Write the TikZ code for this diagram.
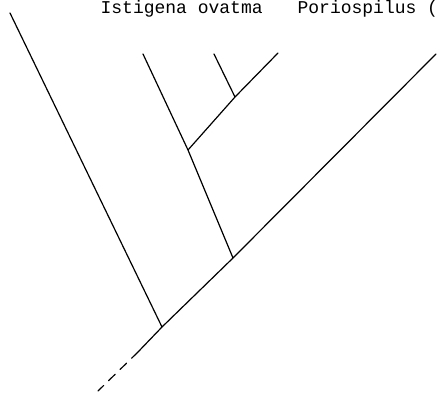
\documentclass[tikz,border=0pt]{standalone}
\usepackage{fontspec}
\setmonofont{Liberation Mono}
\begin{document}
\begin{tikzpicture}[x=1pt, y=-1pt, line cap=round, line join=round, line width=1.2pt, font=\fontsize{18}{20}\selectfont\ttfamily]
			\useasboundingbox (0,0) rectangle (439,393);
			\path (10,13) coordinate (T_1)
			(143,54) coordinate (T_2)
			(214,54) coordinate (T_3)
			(278,53) coordinate (T_4)
			(436,54) coordinate (R)
			(162,327) coordinate (N_1)
			(233,258) coordinate (N_2)
			(188,150) coordinate (N_3)
			(235,97) coordinate (N_4)
			(138,352) coordinate (D)
			(98,391) coordinate (B);
			\draw (T_1) -- (N_1) (T_2) -- (N_3) -- (N_2)
			(T_3) -- (N_4) (N_3) -- (N_4) -- (T_4)
			(D) -- (N_1) -- (N_2) -- (R);
			\draw[dashed, dash pattern=on 9pt off 7pt] (D) -- (B);
			\node[anchor=base west, inner sep=0pt] (lbl_ist) at (100,14) {Istigena ovatma};
			\node[anchor=base west, inner sep=0pt] (lbl_por) at (297,14) {Poriospilus (};
		\end{tikzpicture}
\end{document}
